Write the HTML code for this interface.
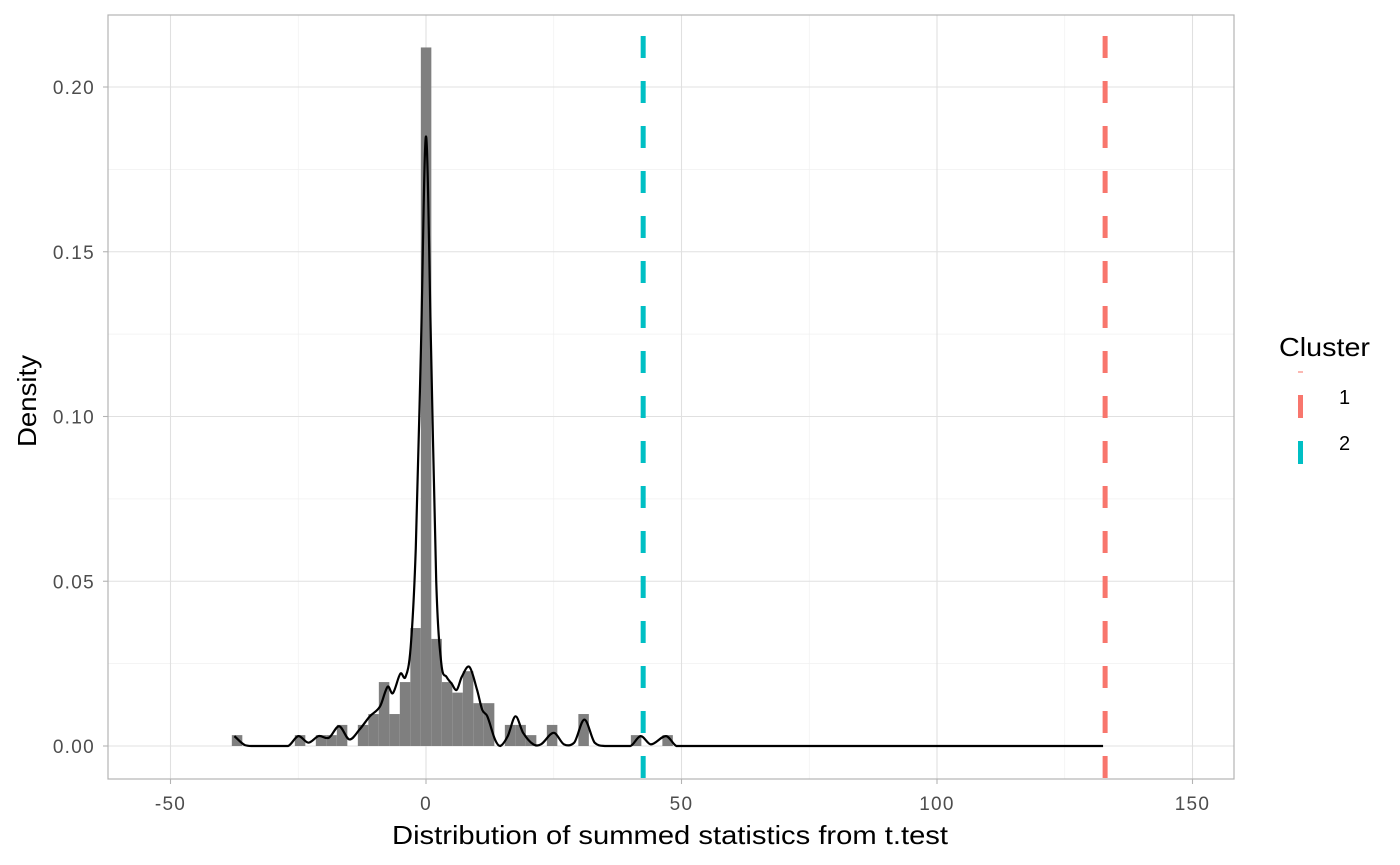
<!DOCTYPE html>
<html><head><meta charset="utf-8"><style>
body{margin:0;background:#fff}
svg{display:block;font-family:"Liberation Sans",sans-serif}
</style></head><body>
<svg id="chart" width="1400" height="865" viewBox="0 0 1400 865"></svg>
<script>
const binStart = -38;
const binWidth = 2.055;
const binDensities = [0.0033,0,0,0,0,0,0.0033,0,0.0033,0.0033,0.0064,0,0.0064,0.0097,0.0194,0.0097,0.0194,0.0358,0.212,0.0325,0.0194,0.0162,0.0227,0.0130,0.0130,0,0.0064,0.0064,0.0033,0,0.0064,0,0,0.0097,0,0,0,0,0.0033,0,0,0.0033];
const densityX = [-37.5,-35.5,-34,-27,-25,-23,-21,-19,-17,-15,-13,-11,-9,-7.5,-6.5,-5,-4,-3,-2,-1,0,1,2,3,4,5,6,7,8.5,10,11,12,13.5,14.5,16,17.5,19,21,22.5,25,27,29,31,33,35,40,42,44,47,49,52,132.5];
const densityY = [0.003,0.0003,0,0,0.003,0.001,0.003,0.0025,0.006,0.002,0.005,0.009,0.012,0.018,0.016,0.022,0.021,0.03,0.06,0.12,0.185,0.12,0.05,0.025,0.021,0.019,0.017,0.021,0.024,0.017,0.011,0.009,0.002,0,0.003,0.009,0.004,0.0005,0.0005,0.004,0.0005,0.001,0.008,0.001,0,0,0.003,0.0005,0.003,0,0,0];
const clusters = ["1","2"];
const clusterValues = [132.9,42.5];
const clusterColors = ["#F8766D","#00BFC4"];
const xTicks = [-50,0,50,100,150];
const xMinor = [-25,25,75,125];
const yTicks = [0,0.05,0.10,0.15,0.20];
const yTickLabels = ["0.00","0.05","0.10","0.15","0.20"];
const yMinor = [0.025,0.075,0.125,0.175];

const L=108,R=1234,T=15,B=779;
const xs=v=>426+v*5.11;
const ys=v=>746-v*3295;
const NS="http://www.w3.org/2000/svg";
const svg=document.getElementById('chart');
function el(t,a,p){const e=document.createElementNS(NS,t);for(const k in a)e.setAttribute(k,a[k]);(p||svg).appendChild(e);return e;}

const grid=el('g',{});


xMinor.forEach(v=>el('line',{x1:xs(v),x2:xs(v),y1:T,y2:B,stroke:'#f0f0f0','stroke-width':0.7},grid));
yMinor.forEach(v=>el('line',{x1:L,x2:R,y1:ys(v),y2:ys(v),stroke:'#f0f0f0','stroke-width':0.7},grid));
xTicks.forEach(v=>el('line',{x1:xs(v),x2:xs(v),y1:T,y2:B,stroke:'#e0e0e0','stroke-width':1.1},grid));
yTicks.forEach(v=>el('line',{x1:L,x2:R,y1:ys(v),y2:ys(v),stroke:'#e0e0e0','stroke-width':1.1},grid));

const bars=el('g',{});


binDensities.forEach((d,i)=>{
  if(d<=0)return;
  const x0=xs(binStart+i*binWidth),x1=xs(binStart+(i+1)*binWidth);
  const r=el('rect',{x:x0,y:ys(d),width:x1-x0,height:ys(0)-ys(d),fill:'#7f7f7f'},bars);
  
  
});

const pts=densityX.map((x,i)=>[xs(x),ys(densityY[i])]);
let d=`M${pts[0][0]},${pts[0][1]}`;
for(let i=0;i<pts.length-1;i++){
  const p0=pts[Math.max(0,i-1)],p1=pts[i],p2=pts[i+1],p3=pts[Math.min(pts.length-1,i+2)];
  const w=p2[0]-p1[0];
  const s1=(p2[1]-p0[1])/Math.max(1,p2[0]-p0[0]);
  const s2=(p3[1]-p1[1])/Math.max(1,p3[0]-p1[0]);
  let c1y=p1[1]+s1*w/3,c2y=p2[1]-s2*w/3;
  c1y=Math.min(c1y,ys(0));c2y=Math.min(c2y,ys(0));
  d+=` C${p1[0]+w/3},${c1y} ${p2[0]-w/3},${c2y} ${p2[0]},${p2[1]}`;
}
const curve=el('path',{d:d,fill:'none',stroke:'#000','stroke-width':2.2});



clusterValues.forEach((v,i)=>{
  const ln=el('line',{x1:xs(v),x2:xs(v),y1:T,y2:B,stroke:clusterColors[i],'stroke-width':5,'stroke-dasharray':'22 23','stroke-dashoffset':24});
  
  
});

const border=el('rect',{x:L,y:T,width:R-L,height:B-T,fill:'none',stroke:'#b3b3b3','stroke-width':1.2});



xTicks.forEach(v=>{
  el('line',{x1:xs(v),x2:xs(v),y1:B,y2:B+5,stroke:'#b3b3b3','stroke-width':1.1});
  const t=el('text',{x:xs(v),y:B+31,'text-anchor':'middle','font-size':19,'letter-spacing':1.3,fill:'#4d4d4d'});
  t.textContent=v;
  
  
});
yTicks.forEach((v,i)=>{
  el('line',{x1:L-5,x2:L,y1:ys(v),y2:ys(v),stroke:'#b3b3b3','stroke-width':1.1});
  const t=el('text',{x:L-13,y:ys(v)+7,'text-anchor':'end','font-size':19,'letter-spacing':1.3,fill:'#4d4d4d'});
  t.textContent=yTickLabels[i];
  
  
});
const xt=el('text',{x:392,y:844,'font-size':26,textLength:556,lengthAdjust:'spacingAndGlyphs',fill:'#000'});
xt.textContent='Distribution of summed statistics from t.test';


const yt=el('text',{x:0,y:0,'font-size':26,textLength:92,lengthAdjust:'spacingAndGlyphs',fill:'#000',transform:'translate(36,447) rotate(-90)'});
yt.textContent='Density';



const lg=el('g',{});


const lt=el('text',{x:1279,y:356,'font-size':26,textLength:91,lengthAdjust:'spacingAndGlyphs',fill:'#000'},lg);
lt.textContent='Cluster';


el('line',{x1:1300.5,x2:1300.5,y1:371,y2:373,stroke:'#fbb8b2','stroke-width':5},lg);
clusters.forEach((c,i)=>{
  const y0=395+i*46;
  const k=el('line',{x1:1300.5,x2:1300.5,y1:y0,y2:y0+23,stroke:clusterColors[i],'stroke-width':5},lg);
  
  
  const t=el('text',{x:1339,y:y0+9,'font-size':20,fill:'#000'},lg);
  t.textContent=c;
  
  
});
</script>
</body></html>
